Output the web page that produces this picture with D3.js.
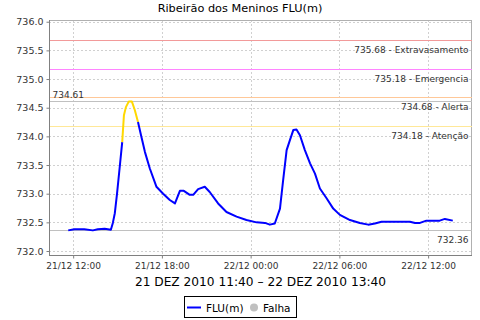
<!DOCTYPE html>
<html><head><meta charset="utf-8">
<script src="https://cdn.jsdelivr.net/npm/d3@7"></script>
<style>
html,body{margin:0;padding:0;background:#fff;}
svg{display:block;font-family:"DejaVu Sans",sans-serif;}
</style></head>
<body>
<svg id="chart" width="480" height="320"></svg>
<script>
// ---- data ----
const title = "Ribeirão dos Meninos FLU(m)";
const axisLabel = "21 DEZ 2010 11:40 – 22 DEZ 2010 13:40";
const times = [
"2010-12-21 11:40","2010-12-21 12:05","2010-12-21 12:45","2010-12-21 13:20","2010-12-21 13:40",
"2010-12-21 14:08","2010-12-21 14:33","2010-12-21 14:41","2010-12-21 14:49","2010-12-21 14:58",
"2010-12-21 15:09","2010-12-21 15:19","2010-12-21 15:26","2010-12-21 15:34","2010-12-21 15:46",
"2010-12-21 15:58","2010-12-21 16:10","2010-12-21 16:23","2010-12-21 16:37","2010-12-21 16:51",
"2010-12-21 17:11","2010-12-21 17:38","2010-12-21 18:05","2010-12-21 18:32","2010-12-21 18:53",
"2010-12-21 19:13","2010-12-21 19:29","2010-12-21 19:53","2010-12-21 20:07","2010-12-21 20:27",
"2010-12-21 20:54","2010-12-21 21:14","2010-12-21 21:48","2010-12-21 22:22","2010-12-21 23:03",
"2010-12-21 23:43","2010-12-22 00:24","2010-12-22 00:58","2010-12-22 01:18","2010-12-22 01:38",
"2010-12-22 01:59","2010-12-22 02:12","2010-12-22 02:26","2010-12-22 02:39","2010-12-22 02:53",
"2010-12-22 03:06","2010-12-22 03:20","2010-12-22 03:40","2010-12-22 04:01","2010-12-22 04:21",
"2010-12-22 04:41","2010-12-22 05:08","2010-12-22 05:35","2010-12-22 06:02","2010-12-22 06:43",
"2010-12-22 07:23","2010-12-22 07:57","2010-12-22 08:24","2010-12-22 08:51","2010-12-22 09:52",
"2010-12-22 10:46","2010-12-22 11:07","2010-12-22 11:27","2010-12-22 11:53","2010-12-22 12:47",
"2010-12-22 13:08","2010-12-22 13:40"];
const flu = [
732.36,732.38,732.38,732.36,732.38,
732.39,732.37,732.49,732.66,733.00,
733.47,733.90,734.37,734.51,734.61,
734.61,734.46,734.25,733.99,733.73,
733.44,733.12,733.00,732.89,732.83,
733.05,733.05,732.98,732.98,733.08,
733.12,733.03,732.83,732.68,732.60,
732.54,732.50,732.49,732.46,732.48,
732.74,733.24,733.76,733.93,734.11,
734.12,734.02,733.76,733.53,733.35,
733.09,732.92,732.74,732.63,732.54,
732.49,732.46,732.48,732.51,732.51,
732.51,732.49,732.49,732.53,732.53,
732.56,732.53];
const thresholdValues = [735.68, 735.18, 734.68, 734.18];
const thresholdNames  = ["Extravasamento", "Emergencia", "Alerta", "Atenção"];
const thresholdColors = ["#f29a9a", "#ff85ff", "#ffc898", "#ffe898"];
const yTicks = [732.0, 732.5, 733.0, 733.5, 734.0, 734.5, 735.0, 735.5, 736.0];
const xTickTimes = ["2010-12-21 12:00","2010-12-21 18:00","2010-12-22 00:00","2010-12-22 06:00","2010-12-22 12:00"];
const legendNames = ["FLU(m)", "Falha"];

// ---- setup ----
const parse = d3.timeParse("%Y-%m-%d %H:%M");
const data = times.map((t,i)=>({t:parse(t), v:flu[i]}));
const W = 480, H = 320;
const L = 49, R = 472, T = 20, B = 256;
const svg = d3.select("#chart");

const ext = d3.extent(data, d=>d.t);
const span = ext[1]-ext[0];
const x = d3.scaleTime().domain([new Date(+ext[0]-span*0.05), new Date(+ext[1]+span*0.05)]).range([L, R]);
const y = d3.scaleLinear().domain([731.913, 736.03]).range([B, T]);

// grid
const g = svg.append("g");
g.selectAll(".hg").data(yTicks).enter().append("line")
  .attr("x1", L).attr("x2", R).attr("y1", d=>Math.round(y(d))+0.5).attr("y2", d=>Math.round(y(d))+0.5)
  .attr("stroke", "#d0d0d0").attr("stroke-dasharray", "2,2");
g.selectAll(".vg").data(xTickTimes.map(parse)).enter().append("line")
  .attr("y1", T).attr("y2", B).attr("x1", d=>Math.round(x(d))+0.5).attr("x2", d=>Math.round(x(d))+0.5)
  .attr("stroke", "#d0d0d0").attr("stroke-dasharray", "2,2");

// plot outline
svg.append("rect").attr("x", L+0.5).attr("y", T+0.5).attr("width", R-L-1).attr("height", B-T-1)
  .attr("fill", "none").attr("stroke", "#b0b0b0");

// threshold markers
thresholdValues.forEach((v,i)=>{
  const yy = Math.round(y(v))+0.5;
  svg.append("line").attr("x1", L).attr("x2", R).attr("y1", yy).attr("y2", yy)
    .attr("stroke", thresholdColors[i]).attr("stroke-width", 1);
  svg.append("text").attr("x", 468.5).attr("y", yy+12).attr("text-anchor", "end")
    .attr("font-size", "9px").attr("fill", "#333")
    .text(d3.format(".2f")(v) + " - " + thresholdNames[i]);
});
// max / min markers
const maxV = d3.max(flu), minV = d3.min(flu);
const yMax = Math.round(y(maxV))+0.5, yMin = Math.round(y(minV))+0.5;
svg.append("line").attr("x1", L).attr("x2", R).attr("y1", yMax).attr("y2", yMax).attr("stroke", "#c0c0c0");
svg.append("text").attr("x", 52.5).attr("y", yMax-4).attr("font-size", "9px").attr("fill", "#333")
  .text(d3.format(".2f")(maxV));
svg.append("line").attr("x1", L).attr("x2", R).attr("y1", yMin).attr("y2", yMin).attr("stroke", "#c0c0c0");
svg.append("text").attr("x", 468.5).attr("y", yMin+12.5).attr("text-anchor", "end").attr("font-size", "9px").attr("fill", "#333")
  .text(d3.format(".2f")(minV));

// axes
const yAxis = d3.axisLeft(y).tickValues(yTicks).tickFormat(d3.format(".1f")).tickSize(3).tickPadding(3);
const ya = svg.append("g").attr("transform", `translate(${L+0.5},0)`).call(yAxis);
ya.select(".domain").attr("stroke", "#808080").attr("d", `M0,${T}V${B}`);
ya.selectAll(".tick line").attr("stroke", "#808080");
ya.selectAll(".tick text").attr("font-size", "9.5px").attr("fill", "#333").attr("font-family", "DejaVu Sans");

const xAxis = d3.axisBottom(x).tickValues(xTickTimes.map(parse)).tickFormat(d3.timeFormat("%d/%m %H:%M")).tickSize(3).tickPadding(4);
const xa = svg.append("g").attr("transform", `translate(0,${B-0.5})`).call(xAxis);
xa.select(".domain").attr("stroke", "#808080").attr("d", `M${L},0H${R}`);
xa.selectAll(".tick line").attr("stroke", "#808080");
xa.selectAll(".tick text").attr("font-size", "9px").attr("fill", "#333").attr("font-family", "DejaVu Sans");

// data line, segments colored by end value vs. Atenção level
const atencao = thresholdValues[3];
const line = d3.line().x(d=>x(d.t)).y(d=>y(d.v));
const runs = [];
for (let i=1;i<data.length;i++){
  const c = data[i].v >= atencao ? "#ffd800" : "#0000ff";
  const last = runs[runs.length-1];
  if (last && last.c===c) last.pts.push(data[i]);
  else runs.push({c, pts:[data[i-1], data[i]]});
}
svg.append("g").selectAll("path").data(runs).enter().append("path")
  .attr("d", d=>line(d.pts)).attr("fill","none").attr("stroke", d=>d.c)
  .attr("stroke-width", 2).attr("stroke-linejoin","round");

// title
svg.append("text").attr("x", W/2).attr("y", 12).attr("text-anchor","middle")
  .attr("font-size","11.3px").attr("fill","#000").text(title);
// axis label
svg.append("text").attr("x", (L+R)/2).attr("y", 286).attr("text-anchor","middle")
  .attr("font-size","12.2px").attr("fill","#000").text(axisLabel);

// legend
const lg = svg.append("g");
lg.append("rect").attr("x",184.5).attr("y",296.5).attr("width",112).attr("height",21)
  .attr("fill","#fff").attr("stroke","#000");
lg.append("line").attr("x1",187).attr("x2",201).attr("y1",307.5).attr("y2",307.5).attr("stroke","#0000ff").attr("stroke-width",2);
lg.append("text").attr("x",206).attr("y",311.5).attr("font-size","10.5px").text(legendNames[0]);
lg.append("circle").attr("cx",254).attr("cy",307.5).attr("r",4).attr("fill","#c0c0c0");
lg.append("text").attr("x",263).attr("y",311.5).attr("font-size","10.5px").text(legendNames[1]);
</script>
</body></html>
